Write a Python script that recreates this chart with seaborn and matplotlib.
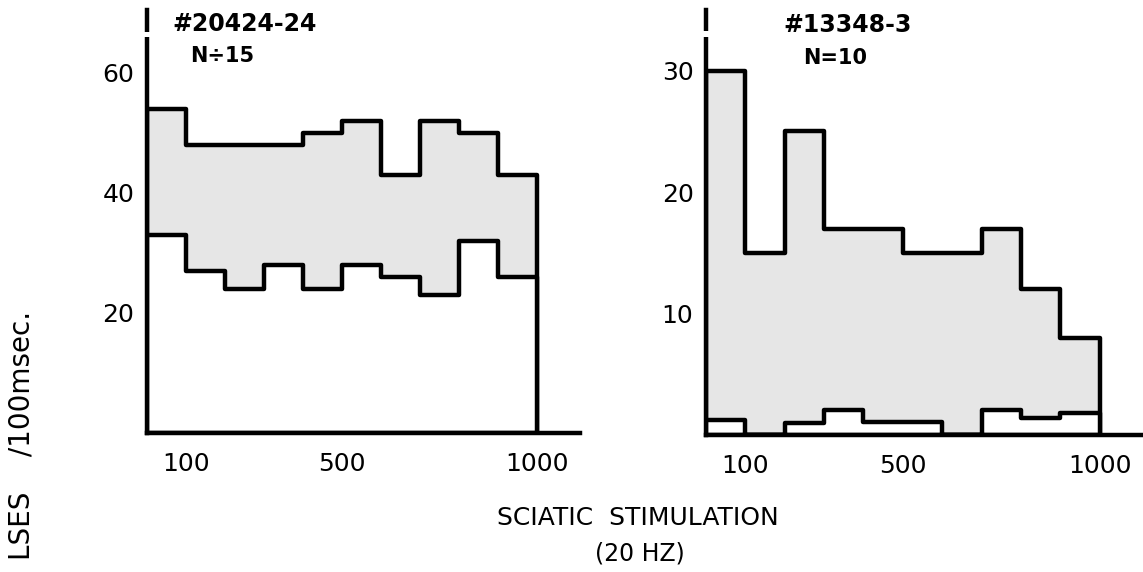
import numpy as np
import pandas as pd
import matplotlib.pyplot as plt
import seaborn as sns

# bins of 100 ms along the stimulation, 0..1000
bin_edges = [0, 100, 200, 300, 400, 500, 600, 700, 800, 900, 1000]
bin_centers = [50, 150, 250, 350, 450, 550, 650, 750, 850, 950]

# left panel: #20424-24, N=15
left_upper = [54, 48, 48, 48, 50, 52, 43, 52, 50, 43]
left_lower = [33, 27, 24, 28, 24, 28, 26, 23, 32, 26]

# right panel: #13348-3, N=10
right_upper = [30, 15, 25, 17, 17, 15, 15, 17, 12, 8]
right_lower = [1.2, 0, 1.0, 2.1, 1.1, 1.1, 0, 2.1, 1.4, 1.8]

x_ticks = [100, 500, 1000]
x_ticklabels = ['100', '500', '1000']
left_yticks = [20, 40, 60]
right_yticks = [10, 20, 30]

sns.set_style('white')
plt.rcParams['font.family'] = ['DejaVu Sans']
plt.rcParams['text.color'] = 'black'

W, H = 1143, 572
fig = plt.figure(figsize=(W / 100, H / 100), dpi=100)

STIPPLE = '#e6e6e6'
LW = 3.2


def px_axes(left, right, top, bottom):
    return fig.add_axes([left / W, 1 - bottom / H, (right - left) / W, (bottom - top) / H])


def draw_panel(ax, upper, lower, ylim, yticks, gap):
    df = pd.DataFrame({'center': bin_centers, 'upper': upper, 'lower': lower})
    # shaded band = upper histogram filled grey, lower histogram filled white on top
    sns.histplot(data=df, x='center', weights='upper', bins=bin_edges, element='step',
                 fill=True, color=STIPPLE, edgecolor='black', linewidth=LW, alpha=1, ax=ax)
    sns.histplot(data=df, x='center', weights='lower', bins=bin_edges, element='step',
                 fill=True, color='white', edgecolor='black', linewidth=LW, alpha=1, ax=ax)
    ax.set_xlim(0, 1110)
    ax.set_ylim(*ylim)
    ax.set_xticks(x_ticks)
    ax.set_xticklabels(x_ticklabels)
    ax.set_yticks(yticks)
    ax.set_xlabel('')
    ax.set_ylabel('')
    sns.despine(ax=ax)
    for s in ['left', 'bottom']:
        ax.spines[s].set_linewidth(LW)
        ax.spines[s].set_color('black')
        ax.spines[s].set_zorder(5)
    ax.tick_params(axis='both', direction='out', length=8, width=2.2, labelsize=18,
                   colors='black')
    ax.tick_params(axis='x', pad=6)
    ax.tick_params(axis='y', pad=1)
    # small break near the top of the y axis
    ax.plot([0, 0], gap, color='white', lw=6, clip_on=False, zorder=10,
            solid_capstyle='butt')


ax1 = px_axes(147, 580, 10, 433)
draw_panel(ax1, left_upper, left_lower, (0, 70.5), left_yticks, (66.0, 66.8))

ax2 = px_axes(706, 1143, 10, 435)
draw_panel(ax2, right_upper, right_lower, (0, 35.0), right_yticks, (32.8, 33.3))


def ftext(x, y, s, **kw):
    fig.text(x / W, 1 - y / H, s, ha='center', va='center', color='black', **kw)


ftext(245, 24, '#20424-24', fontsize=17, fontweight='bold')
ftext(222, 56, 'N÷15', fontsize=15, fontweight='bold')
ftext(848, 25, '#13348-3', fontsize=17, fontweight='bold')
ftext(835, 58, 'N=10', fontsize=15, fontweight='bold')

ftext(638, 518, 'SCIATIC  STIMULATION', fontsize=18)
ftext(640, 553, '(20 HZ)', fontsize=17)

# y label: only the part visible in the scanned figure
fig.text(22 / W, 1 - 311 / H, 'LSES    /100msec.', rotation=90, rotation_mode='anchor',
         ha='right', va='center', fontsize=20, color='black')

fig.savefig('out.png', dpi=100, facecolor='white')
